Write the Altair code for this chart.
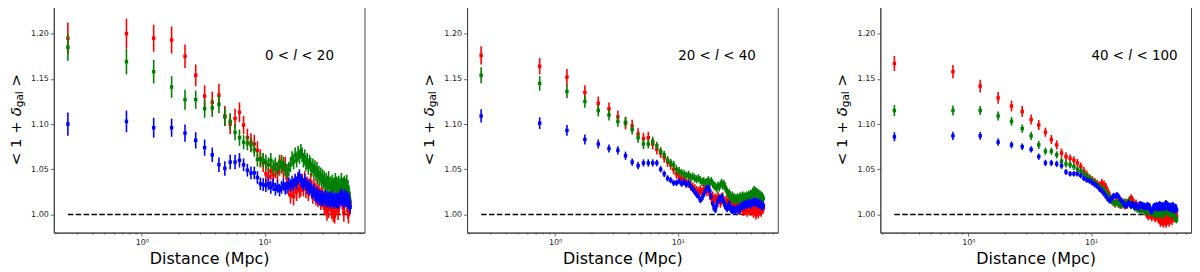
import altair as alt
import pandas as pd

# ---------------- data ----------------
DIST = [0.25, 0.75, 1.25, 1.75, 2.25, 2.75, 3.25, 3.75, 4.25, 4.75,
        5.25, 5.75, 6.25, 6.75, 7.25, 7.75, 8.25, 8.75, 9.25, 9.75,
        10.25, 10.75, 11.25, 11.75, 12.25, 12.75, 13.25, 13.75, 14.25, 14.75,
        15.25, 15.75, 16.25, 16.75, 17.25, 17.75, 18.25, 18.75, 19.25, 19.75,
        20.25, 20.75, 21.25, 21.75, 22.25, 22.75, 23.25, 23.75, 24.25, 24.75,
        25.25, 25.75, 26.25, 26.75, 27.25, 27.75, 28.25, 28.75, 29.25, 29.75,
        30.25, 30.75, 31.25, 31.75, 32.25, 32.75, 33.25, 33.75, 34.25, 34.75,
        35.25, 35.75, 36.25, 36.75, 37.25, 37.75, 38.25, 38.75, 39.25, 39.75,
        40.25, 40.75, 41.25, 41.75, 42.25, 42.75, 43.25, 43.75, 44.25, 44.75,
        45.25, 45.75, 46.25, 46.75, 47.25, 47.75, 48.25, 48.75, 49.25, 49.75]

P1_RED = [1.195, 1.200, 1.195, 1.193, 1.175, 1.154, 1.131, 1.124, 1.132, 1.109, 1.100, 1.106, 1.113,
          1.099, 1.085, 1.080, 1.078, 1.071, 1.062, 1.057,
          1.045, 1.042, 1.048, 1.044, 1.050, 1.047, 1.053, 1.056, 1.050, 1.054,
          1.040, 1.030, 1.022, 1.028, 1.020, 1.032, 1.025, 1.035, 1.028, 1.030,
          1.035, 1.030, 1.038, 1.028, 1.032, 1.025, 1.030, 1.036, 1.027, 1.022,
          1.030, 1.025, 1.020, 1.028, 1.018, 1.024, 1.020, 1.015, 1.022, 1.018,
          1.015, 1.010, 1.018, 1.008, 1.003, 1.012, 1.006, 1.015, 1.020, 1.010,
          1.005, 1.012, 1.002, 1.008, 1.000, 1.006, 1.012, 1.018, 1.010, 1.004,
          1.010, 1.015, 1.020, 1.025, 1.030, 1.022, 1.015, 1.008, 1.002, 1.010,
          1.018, 1.025, 1.030, 1.020, 1.012, 1.005, 1.000, 1.008, 1.015, 1.010]
P1_GREEN = [1.185, 1.169, 1.158, 1.141, 1.127, 1.127, 1.117, 1.118, 1.122, 1.108, 1.103, 1.091, 1.085,
            1.080, 1.079, 1.077, 1.072, 1.061, 1.061, 1.060,
            1.058, 1.055, 1.060, 1.052, 1.055, 1.050, 1.058, 1.053, 1.056, 1.050,
            1.048, 1.050, 1.055, 1.062, 1.058, 1.066, 1.060, 1.068, 1.064, 1.070,
            1.066, 1.060, 1.064, 1.056, 1.060, 1.052, 1.058, 1.055, 1.050, 1.054,
            1.048, 1.052, 1.045, 1.050, 1.042, 1.046, 1.040, 1.044, 1.038, 1.042,
            1.036, 1.040, 1.033, 1.038, 1.030, 1.035, 1.040, 1.032, 1.028, 1.034,
            1.030, 1.036, 1.032, 1.027, 1.033, 1.038, 1.030, 1.034, 1.028, 1.032,
            1.035, 1.030, 1.026, 1.032, 1.038, 1.030, 1.025, 1.033, 1.028, 1.035,
            1.030, 1.024, 1.032, 1.036, 1.028, 1.030, 1.025, 1.022, 1.018, 1.014]
P1_BLUE = [1.100, 1.103, 1.096, 1.096, 1.090, 1.082, 1.074, 1.066, 1.055, 1.051, 1.058, 1.058, 1.060,
           1.055, 1.049, 1.046, 1.046, 1.041, 1.034, 1.033,
           1.032, 1.034, 1.030, 1.033, 1.028, 1.031, 1.027, 1.030, 1.033, 1.029,
           1.030, 1.034, 1.032, 1.036, 1.033, 1.038, 1.035, 1.040, 1.043, 1.038,
           1.036, 1.033, 1.038, 1.034, 1.030, 1.032, 1.028, 1.030, 1.026, 1.024,
           1.027, 1.022, 1.020, 1.024, 1.018, 1.021, 1.017, 1.020, 1.016, 1.019,
           1.018, 1.016, 1.020, 1.017, 1.015, 1.019, 1.016, 1.018, 1.014, 1.017,
           1.015, 1.019, 1.016, 1.013, 1.017, 1.015, 1.018, 1.014, 1.016, 1.013,
           1.017, 1.015, 1.019, 1.022, 1.018, 1.016, 1.020, 1.017, 1.014, 1.018,
           1.021, 1.017, 1.015, 1.019, 1.016, 1.013, 1.017, 1.015, 1.011, 1.008]

P2_RED = [1.176, 1.164, 1.152, 1.135, 1.123, 1.117, 1.108, 1.101, 1.098, 1.089, 1.084, 1.085, 1.078,
          1.072, 1.068, 1.063, 1.058, 1.055, 1.050, 1.045,
          1.042, 1.040, 1.038, 1.036, 1.035, 1.032, 1.030, 1.028, 1.026, 1.025,
          1.027, 1.024, 1.028, 1.030, 1.026, 1.029, 1.022, 1.018, 1.020, 1.016,
          1.018, 1.015, 1.020, 1.017, 1.013, 1.016, 1.019, 1.014, 1.011, 1.015,
          1.012, 1.016, 1.010, 1.013, 1.009, 1.012, 1.014, 1.010, 1.008, 1.011,
          1.008, 1.010, 1.006, 1.009, 1.005, 1.008, 1.011, 1.006, 1.004, 1.008,
          1.005, 1.009, 1.006, 1.003, 1.007, 1.010, 1.005, 1.008, 1.004, 1.006,
          1.008, 1.005, 1.002, 1.006, 1.009, 1.004, 1.000, 1.003, 1.007, 1.005,
          1.001, 1.004, 1.008, 1.010, 1.006, 1.003, 1.007, 1.009, 1.006, 1.008]
P2_GREEN = [1.154, 1.145, 1.136, 1.125, 1.115, 1.110, 1.103, 1.102, 1.094, 1.085, 1.078, 1.078, 1.081,
            1.076, 1.070, 1.066, 1.060, 1.057, 1.055, 1.050,
            1.048, 1.046, 1.045, 1.043, 1.044, 1.041, 1.042, 1.040, 1.039, 1.040,
            1.038, 1.036, 1.037, 1.035, 1.036, 1.038, 1.035, 1.037, 1.034, 1.032,
            1.031, 1.029, 1.032, 1.030, 1.033, 1.035, 1.032, 1.034, 1.030, 1.028,
            1.025, 1.022, 1.024, 1.020, 1.018, 1.021, 1.017, 1.019, 1.016, 1.018,
            1.017, 1.019, 1.016, 1.018, 1.020, 1.017, 1.019, 1.021, 1.018, 1.020,
            1.017, 1.019, 1.021, 1.018, 1.020, 1.022, 1.019, 1.021, 1.023, 1.020,
            1.022, 1.025, 1.023, 1.027, 1.024, 1.026, 1.023, 1.025, 1.022, 1.024,
            1.021, 1.023, 1.020, 1.022, 1.019, 1.021, 1.018, 1.020, 1.017, 1.018]
P2_BLUE = [1.109, 1.101, 1.093, 1.083, 1.078, 1.073, 1.071, 1.065, 1.058, 1.054, 1.057, 1.057, 1.057,
           1.057, 1.050, 1.045, 1.040, 1.038, 1.035, 1.035,
           1.037, 1.034, 1.036, 1.033, 1.035, 1.031, 1.028, 1.025, 1.022, 1.020,
           1.016, 1.018, 1.022, 1.026, 1.029, 1.030, 1.026, 1.020, 1.012, 1.007,
           1.005, 1.010, 1.015, 1.018, 1.016, 1.020, 1.017, 1.014, 1.010, 1.008,
           1.006, 1.009, 1.012, 1.008, 1.005, 1.004, 1.007, 1.005, 1.003, 1.006,
           1.005, 1.008, 1.006, 1.004, 1.007, 1.009, 1.011, 1.008, 1.010, 1.012,
           1.009, 1.011, 1.013, 1.010, 1.012, 1.014, 1.011, 1.013, 1.010, 1.012,
           1.014, 1.012, 1.015, 1.013, 1.016, 1.014, 1.012, 1.015, 1.013, 1.011,
           1.014, 1.012, 1.010, 1.013, 1.011, 1.009, 1.012, 1.010, 1.008, 1.010]

P3_RED = [1.167, 1.158, 1.142, 1.129, 1.120, 1.114, 1.105, 1.099, 1.091, 1.083, 1.077, 1.068, 1.064,
          1.062, 1.060, 1.057, 1.053, 1.048, 1.044, 1.040,
          1.038, 1.036, 1.034, 1.032, 1.035, 1.033, 1.030, 1.025, 1.020, 1.016,
          1.014, 1.012, 1.015, 1.013, 1.011, 1.014, 1.012, 1.010, 1.013, 1.011,
          1.014, 1.016, 1.018, 1.016, 1.013, 1.010, 1.012, 1.009, 1.007, 1.010,
          1.008, 1.006, 1.009, 1.007, 1.005, 1.003, 1.001, 1.000, 0.998, 1.000,
          1.002, 0.999, 0.997, 1.000, 1.003, 0.998, 0.996, 0.999, 1.001, 0.997,
          0.995, 0.998, 0.994, 0.991, 0.993, 0.996, 0.992, 0.990, 0.994, 0.997,
          0.993, 0.990, 0.992, 0.995, 0.998, 0.994, 0.991, 0.994, 0.997, 1.000,
          0.996, 0.993, 0.997, 1.000, 1.003, 0.999, 0.996, 0.999, 1.001, 0.998]
P3_GREEN = [1.115, 1.115, 1.115, 1.109, 1.103, 1.095, 1.087, 1.077, 1.070, 1.070, 1.066, 1.059, 1.056,
            1.055, 1.053, 1.050, 1.048, 1.045, 1.042, 1.040,
            1.037, 1.035, 1.033, 1.030, 1.029, 1.027, 1.024, 1.021, 1.018, 1.015,
            1.013, 1.012, 1.014, 1.011, 1.013, 1.010, 1.012, 1.014, 1.011, 1.013,
            1.015, 1.012, 1.010, 1.012, 1.009, 1.007, 1.009, 1.006, 1.008, 1.005,
            1.007, 1.004, 1.006, 1.008, 1.005, 1.003, 1.006, 1.004, 1.002, 1.005,
            1.003, 1.005, 1.002, 1.004, 1.001, 1.003, 1.000, 1.002, 1.004, 1.001,
            0.999, 1.002, 1.004, 1.000, 1.003, 1.005, 1.002, 0.999, 1.001, 1.003,
            1.005, 1.007, 1.004, 1.006, 1.003, 1.001, 1.004, 1.006, 1.003, 1.000,
            1.002, 1.004, 1.001, 0.999, 1.002, 0.999, 0.997, 0.995, 0.996, 0.994]
P3_BLUE = [1.086, 1.087, 1.087, 1.080, 1.077, 1.075, 1.072, 1.064, 1.057, 1.057, 1.056, 1.054, 1.047,
           1.045, 1.045, 1.045, 1.043, 1.040, 1.038, 1.037,
           1.035, 1.033, 1.031, 1.028, 1.026, 1.023, 1.020, 1.017, 1.015, 1.018,
           1.021, 1.020, 1.022, 1.020, 1.017, 1.015, 1.013, 1.011, 1.009, 1.011,
           1.013, 1.011, 1.009, 1.012, 1.010, 1.008, 1.011, 1.009, 1.007, 1.010,
           1.012, 1.009, 1.011, 1.008, 1.010, 1.007, 1.009, 1.011, 1.008, 1.010,
           1.006, 1.004, 1.003, 1.006, 1.008, 1.010, 1.007, 1.009, 1.011, 1.008,
           1.006, 1.009, 1.012, 1.010, 1.007, 1.009, 1.011, 1.008, 1.006, 1.009,
           1.011, 1.013, 1.010, 1.008, 1.011, 1.009, 1.006, 1.008, 1.010, 1.007,
           1.005, 1.008, 1.011, 1.009, 1.006, 1.004, 1.007, 1.009, 1.006, 1.005]

# error half-widths: first 13 bins, then the value for the remaining bins
P1_ERR_RED = [0.0175, 0.0167, 0.015, 0.015, 0.013, 0.012, 0.012, 0.012, 0.0125, 0.011, 0.011, 0.011, 0.011]
P1_ERR_GREEN = [0.015, 0.014, 0.013, 0.012, 0.011, 0.010, 0.010, 0.010, 0.010, 0.010, 0.009, 0.009, 0.009]
P1_ERR_BLUE = [0.0128, 0.012, 0.011, 0.010, 0.0095, 0.009, 0.009, 0.008, 0.008, 0.008, 0.008, 0.008, 0.008]
P1_TAIL = [0.010, 0.008, 0.007]
P2_ERR_RED = [0.010, 0.009, 0.009, 0.008, 0.0075, 0.007, 0.007, 0.007, 0.0068, 0.0065, 0.0065, 0.0065, 0.006]
P2_ERR_GREEN = [0.0088, 0.008, 0.0075, 0.007, 0.0065, 0.006, 0.006, 0.006, 0.0055, 0.0055, 0.0055, 0.005, 0.005]
P2_ERR_BLUE = [0.0073, 0.0065, 0.006, 0.0055, 0.005, 0.0045, 0.0045, 0.0045, 0.004, 0.004, 0.004, 0.004, 0.004]
P2_TAIL = [0.0055, 0.0045, 0.0035]
P3_ERR_RED = [0.0083, 0.0073, 0.007, 0.0065, 0.006, 0.006, 0.0055, 0.0055, 0.005, 0.005, 0.005, 0.005, 0.005]
P3_ERR_GREEN = [0.006, 0.0055, 0.005, 0.005, 0.0048, 0.0045, 0.0045, 0.0045, 0.004, 0.004, 0.004, 0.004, 0.004]
P3_ERR_BLUE = [0.005, 0.0045, 0.0042, 0.004, 0.0038, 0.0036, 0.0035, 0.0035, 0.0035, 0.0035, 0.0035, 0.0035, 0.0033]
P3_TAIL = [0.0045, 0.0038, 0.003]

LABEL_LEFT = ["0 <", "20 <", "40 <"]
LABEL_RIGHT = ["< 20", "< 40", "< 100"]

X_MAJOR = [1, 10]
X_MINOR = [0.2, 0.3, 0.4, 0.5, 0.6, 0.7, 0.8, 0.9, 2, 3, 4, 5, 6, 7, 8, 9, 20, 30, 40, 50, 60]
Y_TICKS = [1.00, 1.05, 1.10, 1.15, 1.20]
DASH_X = [0.25, 49.75]
DASH_Y = [1.0, 1.0]

COLORS = ["#ff0000", "#008000", "#0000ff"]

# ---------------- layout constants ----------------
W, H = 312, 227
X_DOMAIN = [0.192, 65.2]
Y_DOMAIN = [0.98, 1.23]
FONT = "DejaVu Sans"

X_AXIS = alt.Axis(values=X_MAJOR, labelExpr="datum.value == 1 ? '10⁰' : '10¹'",
                  title="Distance (Mpc)", titleFontSize=16, titleFont=FONT,
                  titleFontWeight="normal", titleColor="black", titlePadding=5,
                  labelFontSize=8, labelFont=FONT, labelColor="#222", labelPadding=2,
                  tickSize=3.5, tickColor="#444", tickWidth=0.8,
                  domainColor="#444", grid=False)
Y_AXIS = alt.Axis(values=Y_TICKS, format=".2f", title="",
                  labelFontSize=8, labelFont=FONT, labelColor="#222", labelPadding=2,
                  tickSize=3.5, tickColor="#444", tickWidth=0.8,
                  domainColor="#444", grid=False)


def series_df(vals, early, tail):
    assert len(vals) == len(DIST), len(vals)
    errs = early + [tail] * (len(DIST) - len(early))
    return pd.DataFrame({
        "x": DIST,
        "y": vals,
        "lo": [v - e for v, e in zip(vals, errs)],
        "hi": [v + e for v, e in zip(vals, errs)],
    })


def xs():
    return alt.X("x:Q", scale=alt.Scale(type="log", domain=X_DOMAIN, nice=False), axis=X_AXIS)


def ys(field):
    return alt.Y(field, scale=alt.Scale(domain=Y_DOMAIN, nice=False, zero=False), axis=Y_AXIS)


def txt(text, x, y, size, angle=0, style="normal", align="left"):
    return alt.Chart(pd.DataFrame({"t": [text]})).mark_text(
        font=FONT, fontSize=size, fontStyle=style, align=align, baseline="middle",
        angle=angle, color="black"
    ).encode(text="t:N", x=alt.value(x), y=alt.value(y))


def panel(series, tails, lab_left, lab_right):
    dash = alt.Chart(pd.DataFrame({"x": DASH_X, "y": DASH_Y})).mark_line(
        color="black", strokeDash=[5.5, 2.4], strokeWidth=1.5
    ).encode(x=xs(), y=ys("y:Q"))

    layers = []
    for (vals, early), tail, col in zip(series, tails, COLORS):
        df = series_df(vals, early, tail)
        rules = alt.Chart(df).mark_rule(color=col, strokeWidth=1.6).encode(
            x=xs(), y=ys("lo:Q"), y2="hi:Q",
        )
        pts = alt.Chart(df).mark_square(color=col, size=12, opacity=1).encode(
            x=xs(), y=ys("y:Q")
        )
        layers += [rules, pts]

    minor = alt.Chart(pd.DataFrame({"x": X_MINOR})).mark_rule(
        color="#444", strokeWidth=0.8
    ).encode(x=xs(), y=alt.value(H), y2=alt.value(H + 2))

    # annotation "a < l < b" with italic l
    fs = 13.5
    left_w = {"0 <": 28.5, "20 <": 37.1, "40 <": 37.1}[lab_left]
    ax0 = 212
    ann = [
        txt(lab_left, ax0, 50, fs),
        txt("l", ax0 + left_w, 50, fs, style="italic"),
        txt(lab_right, ax0 + left_w + 3.75 + 4.3, 50, fs),
    ]

    # y title "< 1 + δ_gal >"
    tx = -38
    y0 = H / 2 + 45.75
    ytitle = [
        txt("< 1 +", tx, y0, 15, angle=270),
        txt("δ", tx, y0 - 49.0, 15, angle=270, style="italic"),
        txt("gal", tx + 4, y0 - 49.0 - 9.2, 10.5, angle=270),
        txt(">", tx, y0 - 49.0 - 9.2 - 16.0 - 4.8, 15, angle=270),
    ]

    return alt.layer(dash, *layers, minor, *ann, *ytitle).properties(width=W, height=H)


p1 = panel([(P1_RED, P1_ERR_RED), (P1_GREEN, P1_ERR_GREEN), (P1_BLUE, P1_ERR_BLUE)],
           P1_TAIL, LABEL_LEFT[0], LABEL_RIGHT[0])
p2 = panel([(P2_RED, P2_ERR_RED), (P2_GREEN, P2_ERR_GREEN), (P2_BLUE, P2_ERR_BLUE)],
           P2_TAIL, LABEL_LEFT[1], LABEL_RIGHT[1])
p3 = panel([(P3_RED, P3_ERR_RED), (P3_GREEN, P3_ERR_GREEN), (P3_BLUE, P3_ERR_BLUE)],
           P3_TAIL, LABEL_LEFT[2], LABEL_RIGHT[2])

chart = alt.hconcat(p1, p2, p3, spacing=103, bounds="flush").properties(
    padding={"left": 0, "top": -3, "right": 0, "bottom": 0}
).configure_view(
    stroke="#444", strokeWidth=1
)

chart.save("out.html", embed_options={"renderer": "svg", "actions": False})
